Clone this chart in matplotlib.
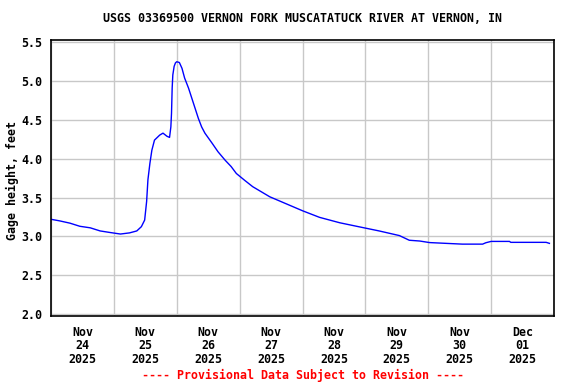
import matplotlib
matplotlib.use("Agg")
import matplotlib.pyplot as plt
import matplotlib.dates as mdates
import pandas as pd

title = "USGS 03369500 VERNON FORK MUSCATATUCK RIVER AT VERNON, IN"
ylabel = "Gage height, feet"
footer = "---- Provisional Data Subject to Revision ----"

times = [
    "2025-11-24 00:00", "2025-11-24 03:15", "2025-11-24 07:15", "2025-11-24 11:00",
    "2025-11-24 15:00", "2025-11-24 18:45", "2025-11-24 22:30", "2025-11-25 02:30",
    "2025-11-25 06:00", "2025-11-25 08:45", "2025-11-25 10:30", "2025-11-25 11:45",
    "2025-11-25 12:30", "2025-11-25 13:00", "2025-11-25 13:45", "2025-11-25 14:30",
    "2025-11-25 15:30", "2025-11-25 17:30", "2025-11-25 18:45", "2025-11-25 20:15",
    "2025-11-25 21:15", "2025-11-25 21:45", "2025-11-25 22:00", "2025-11-25 22:15",
    "2025-11-25 22:30", "2025-11-25 23:00", "2025-11-25 23:30", "2025-11-26 00:00",
    "2025-11-26 01:00", "2025-11-26 02:00", "2025-11-26 03:00", "2025-11-26 04:30",
    "2025-11-26 05:45", "2025-11-26 07:00", "2025-11-26 08:15", "2025-11-26 09:30",
    "2025-11-26 10:45", "2025-11-26 13:30", "2025-11-26 15:45", "2025-11-26 18:30",
    "2025-11-26 20:45", "2025-11-26 22:45", "2025-11-27 02:00",
    "2025-11-27 05:00", "2025-11-27 11:30", "2025-11-27 17:45", "2025-11-28 00:00",
    "2025-11-28 06:30", "2025-11-28 14:15", "2025-11-28 21:30", "2025-11-29 05:15",
    "2025-11-29 13:00", "2025-11-29 16:45", "2025-11-29 20:45", "2025-11-30 00:30",
    "2025-11-30 06:45", "2025-11-30 13:00", "2025-11-30 20:45", "2025-11-30 22:00",
    "2025-12-01 00:00", "2025-12-01 07:00", "2025-12-01 07:30", "2025-12-01 21:00",
    "2025-12-01 22:15",
]
gage_height = [
    3.22, 3.20, 3.17, 3.13,
    3.11, 3.07, 3.05, 3.03,
    3.045, 3.07, 3.125, 3.21,
    3.45, 3.73, 3.94, 4.11,
    4.24, 4.305, 4.33, 4.29,
    4.275, 4.41, 4.585, 4.91,
    5.08, 5.19, 5.235, 5.25,
    5.24, 5.165, 5.04, 4.91,
    4.78, 4.65, 4.52, 4.41,
    4.33, 4.20, 4.09, 3.98,
    3.90, 3.81, 3.72,
    3.64, 3.51, 3.42, 3.33,
    3.245, 3.175, 3.124, 3.07,
    3.01, 2.95, 2.94, 2.92,
    2.91, 2.90, 2.90, 2.918,
    2.935, 2.935, 2.923, 2.923,
    2.91,
]
yticks = [2.0, 2.5, 3.0, 3.5, 4.0, 4.5, 5.0, 5.5]

t = pd.to_datetime(times)

font = "DejaVu Sans Mono"
fs = 8.35

fig = plt.figure(figsize=(5.76, 3.84), dpi=100)
ax = fig.add_axes([51/576, 1-316/384, (554-51)/576, (316-40)/384])

ax.plot(t, gage_height, color="#0000ff", linewidth=1.0)

ax.set_xlim(pd.Timestamp("2025-11-24 00:00"), pd.Timestamp("2025-12-02 00:00"))
ax.set_ylim(1.974, 5.53)

ax.xaxis.set_major_locator(mdates.HourLocator(byhour=[12]))
ax.xaxis.set_minor_locator(mdates.DayLocator())
ax.xaxis.set_major_formatter(mdates.DateFormatter("%b\n%d\n%Y"))
ax.set_yticks(yticks)
ax.set_yticklabels([f"{v:.1f}" for v in yticks])

ax.grid(False)
ax.grid(True, which="minor", axis="x", color="#c8c8c8", linewidth=1.0)
ax.grid(True, which="major", axis="y", color="#c8c8c8", linewidth=1.0)
ax.set_axisbelow(True)

ax.tick_params(axis="x", which="both", length=0, pad=7)
ax.tick_params(axis="y", which="both", length=0, pad=6)
for lab in ax.get_xticklabels():
    lab.set_fontfamily(font)
    lab.set_fontweight("bold")
    lab.set_fontsize(fs)
    lab.set_linespacing(1.05)
for lab in ax.get_yticklabels():
    lab.set_fontfamily(font)
    lab.set_fontweight("bold")
    lab.set_fontsize(fs)

for sp in ax.spines.values():
    sp.set_color("black")
    sp.set_linewidth(1.2)

cx = (51 + 554) / 2 / 576
fig.text(cx, 1-19/384, title, ha="center", va="center",
         fontfamily=font, fontweight="bold", fontsize=fs)
fig.text(12/576, 1-180/384, ylabel, ha="center", va="center", rotation=90,
         fontfamily=font, fontweight="bold", fontsize=fs)
fig.text(cx, 1-375/384, footer, ha="center", va="center", color="red",
         fontfamily=font, fontweight="bold", fontsize=fs)

fig.savefig("out.png", dpi=100)
